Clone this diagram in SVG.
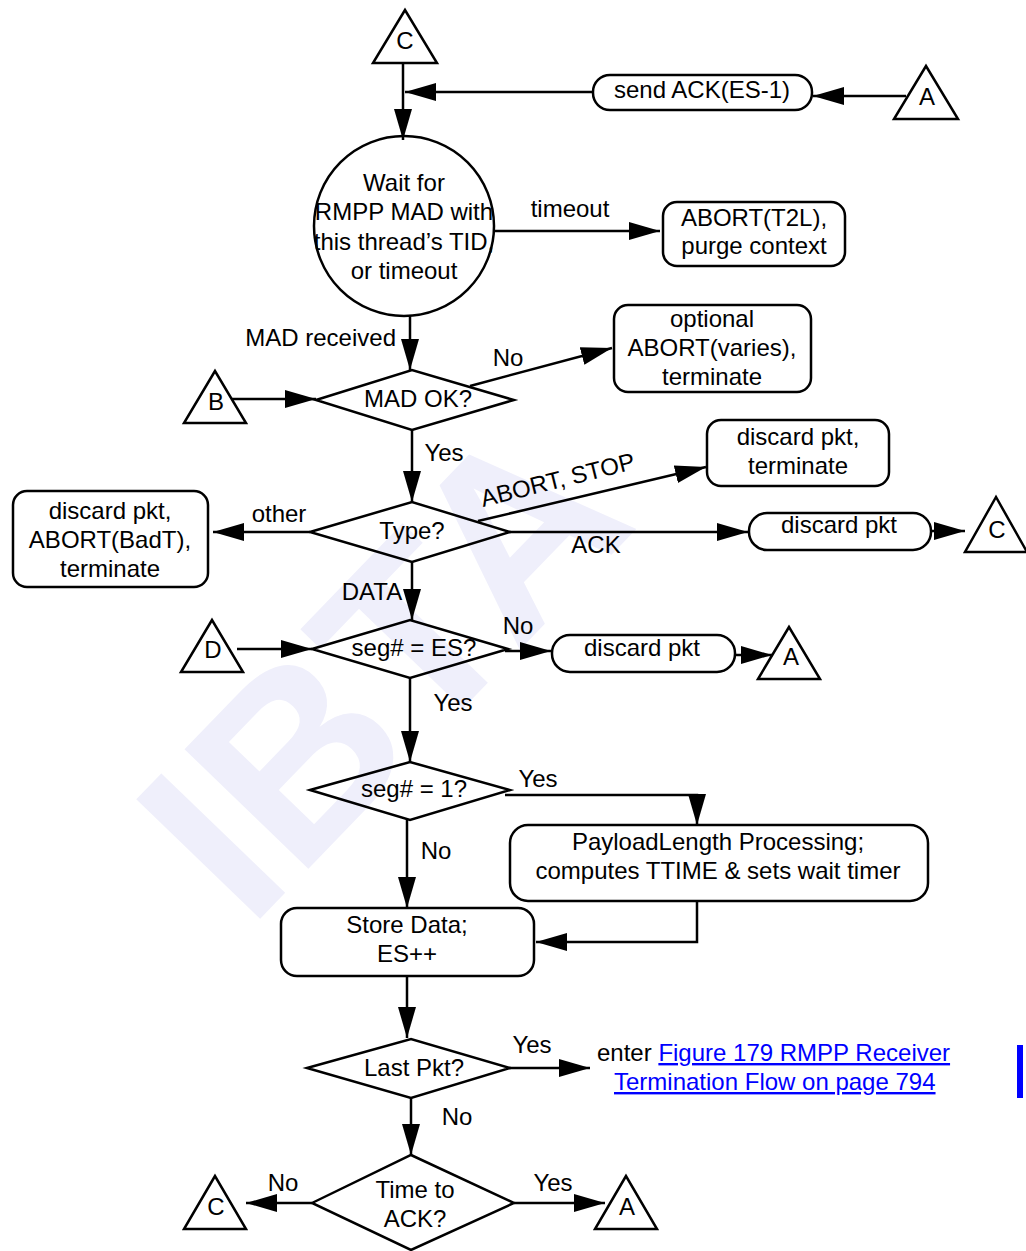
<svg xmlns="http://www.w3.org/2000/svg" width="1026" height="1251" viewBox="0 0 1026 1251">
<style>
text{font-family:"Liberation Sans",Arial,sans-serif;font-size:24px;fill:#000;text-anchor:middle}
.s{fill:none;stroke:#000;stroke-width:2.5}
.c{fill:none;stroke:#000;stroke-width:2.5}
.a{marker-end:url(#ah)}
.l{fill:#0000ff;text-decoration:underline}
.wm{font-family:"Liberation Sans",Arial,sans-serif;font-weight:bold;font-size:250px;fill:#efeffb}
</style>
<defs>
<marker id="ah" markerUnits="userSpaceOnUse" markerWidth="32" markerHeight="20" refX="31" refY="10" orient="auto">
<path d="M0,1 L31,10 L0,19 z" fill="#000"/>
</marker>
</defs>
<rect width="1026" height="1251" fill="#fff"/>
<text class="wm" x="380" y="755" transform="rotate(-46 380 665)">IBTA</text>

<g id="connectors">
<path class="c a" d="M403,63 V140"/>
<path class="c a" d="M593,92 H405"/>
<path class="c a" d="M906,96 H813"/>
<path class="c a" d="M495,231 H660"/>
<path class="c a" d="M410,315 V370"/>
<path class="c a" d="M232,399 H316"/>
<path class="c a" d="M470,386 L612,348"/>
<path class="c a" d="M412,430 V502"/>
<path class="c a" d="M478,521 L706,467"/>
<path class="c a" d="M510,532 H748"/>
<path class="c a" d="M931,531 H965"/>
<path class="c a" d="M310,532 H213"/>
<path class="c a" d="M412,562 V620"/>
<path class="c a" d="M237,649 H312"/>
<path class="c a" d="M505,651 H551"/>
<path class="c a" d="M735,655 H772"/>
<path class="c a" d="M410,678 V762"/>
<path class="c a" d="M505,795 H697 V825"/>
<path class="c a" d="M407,820 V908"/>
<path class="c a" d="M697,901 V942 H536"/>
<path class="c a" d="M407,976 V1038"/>
<path class="c a" d="M510,1068 H590"/>
<path class="c a" d="M411,1098 V1155"/>
<path class="c a" d="M312,1203 H246"/>
<path class="c a" d="M514,1203 H605"/>
</g>

<g id="connC1"><polygon class="s" points="405,10 373,63 437,63"/><text x="405" y="49">C</text></g>
<g id="sendAck"><rect class="s" x="593" y="75" width="219" height="35" rx="17"/><text x="702" y="98">send ACK(ES-1)</text></g>
<g id="connA1"><polygon class="s" points="926,66 894,119 958,119"/><text x="927" y="105">A</text></g>
<g id="wait"><circle class="s" cx="404" cy="226" r="90"/>
<text x="404" y="191">Wait for</text><text x="404" y="220">RMPP MAD with</text><text x="404" y="250">this thread’s TID,</text><text x="404" y="279">or timeout</text></g>
<g id="abortT2L"><rect class="s" x="663" y="202" width="182" height="64" rx="14"/><text x="754" y="226">ABORT(T2L),</text><text x="754" y="254">purge context</text></g>
<g id="madOk"><polygon class="s" points="316,400 412,370 514,400 412,430"/><text x="418" y="407">MAD OK?</text></g>
<g id="connB"><polygon class="s" points="215,371 184,423 246,423"/><text x="216" y="410">B</text></g>
<g id="optAbort"><rect class="s" x="614" y="305" width="197" height="87" rx="14"/><text x="712" y="327">optional</text><text x="712" y="356">ABORT(varies),</text><text x="712" y="385">terminate</text></g>
<g id="type"><polygon class="s" points="310,532 412,502 510,532 412,562"/><text x="412" y="539">Type?</text></g>
<g id="discTerm"><rect class="s" x="707" y="420" width="182" height="66" rx="14"/><text x="798" y="445">discard pkt,</text><text x="798" y="474">terminate</text></g>
<g id="discAck"><rect class="s" x="749" y="513" width="182" height="37" rx="18"/><text x="839" y="533">discard pkt</text></g>
<g id="connC2"><polygon class="s" points="996,497 965,552 1027,552"/><text x="997" y="538">C</text></g>
<g id="discBadT"><rect class="s" x="13" y="491" width="195" height="96" rx="14"/><text x="110" y="519">discard pkt,</text><text x="110" y="548">ABORT(BadT),</text><text x="110" y="577">terminate</text></g>
<g id="segEs"><polygon class="s" points="312,649 410,620 508,649 410,678"/><text x="414" y="656">seg# = ES?</text></g>
<g id="connD"><polygon class="s" points="212,620 181,672 243,672"/><text x="213" y="658">D</text></g>
<g id="discSeg"><rect class="s" x="552" y="635" width="183" height="37" rx="18"/><text x="642" y="656">discard pkt</text></g>
<g id="connA2"><polygon class="s" points="789,627 758,679 820,679"/><text x="791" y="665">A</text></g>
<g id="seg1"><polygon class="s" points="310,790 410,762 510,790 410,820"/><text x="414" y="797">seg# = 1?</text></g>
<g id="payload"><rect class="s" x="510" y="825" width="418" height="76" rx="18"/><text x="718" y="850">PayloadLength Processing;</text><text x="718" y="879">computes TTIME &amp; sets wait timer</text></g>
<g id="store"><rect class="s" x="281" y="908" width="253" height="68" rx="16"/><text x="407" y="933">Store Data;</text><text x="407" y="962">ES++</text></g>
<g id="lastPkt"><polygon class="s" points="307,1068 411,1039 510,1068 411,1098"/><text x="414" y="1076">Last Pkt?</text></g>
<g id="enterRef"><text x="597" y="1061" style="text-anchor:start">enter <tspan class="l">Figure 179 RMPP Receiver </tspan></text><text x="614" y="1090" class="l" style="text-anchor:start">Termination Flow on page 794</text></g>
<g id="timeAck"><polygon class="s" points="312,1203 411,1155 514,1203 411,1250"/><text x="415" y="1198">Time to</text><text x="415" y="1227">ACK?</text></g>
<g id="connC3"><polygon class="s" points="215,1176 184,1229 246,1229"/><text x="216" y="1215">C</text></g>
<g id="connA3"><polygon class="s" points="626,1176 595,1229 657,1229"/><text x="627" y="1215">A</text></g>

<g id="labels">
<text x="570" y="217">timeout</text>
<text x="396" y="346" style="text-anchor:end">MAD received</text>
<text x="508" y="366">No</text>
<text x="444" y="461">Yes</text>
<text x="558" y="488" transform="rotate(-14 558 481)">ABORT, STOP</text>
<text x="596" y="553">ACK</text>
<text x="279" y="522">other</text>
<text x="372" y="600">DATA</text>
<text x="518" y="634">No</text>
<text x="453" y="711">Yes</text>
<text x="538" y="787">Yes</text>
<text x="436" y="859">No</text>
<text x="532" y="1053">Yes</text>
<text x="457" y="1125">No</text>
<text x="283" y="1191">No</text>
<text x="553" y="1191">Yes</text>
</g>
<rect x="1017" y="1045" width="6" height="53" fill="#0000ff"/>
</svg>
